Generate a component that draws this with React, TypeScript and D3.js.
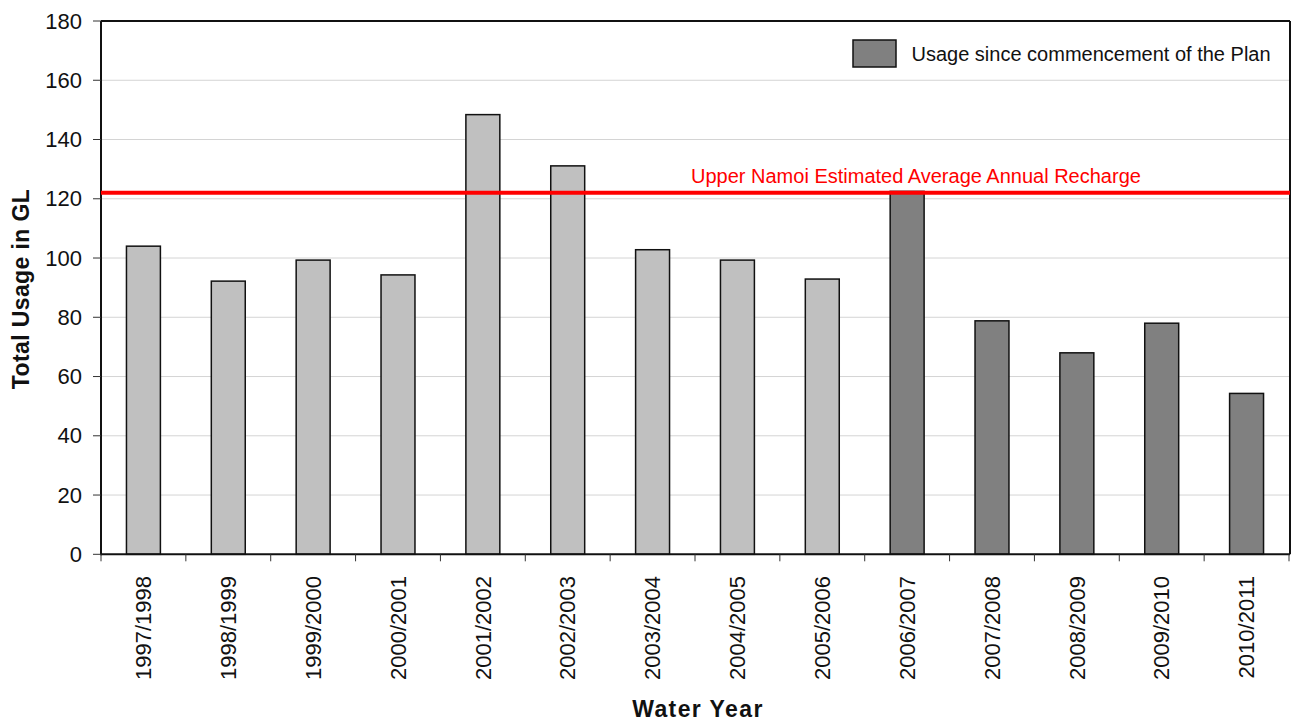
import React from "react";
import * as d3 from "d3";

const categories = [
  "1997/1998", "1998/1999", "1999/2000", "2000/2001", "2001/2002", "2002/2003", "2003/2004",
  "2004/2005", "2005/2006", "2006/2007", "2007/2008", "2008/2009", "2009/2010", "2010/2011",
];
const usage = [104.0, 92.2, 99.3, 94.3, 148.4, 131.1, 102.8, 99.3, 92.9, 122.5, 78.8, 68.0, 78.0, 54.3];
// true = since commencement of the Plan
const sincePlan = [false, false, false, false, false, false, false, false, false, true, true, true, true, true];
const yTicks = [0, 20, 40, 60, 80, 100, 120, 140, 160, 180];
const rechargeValue = 122;
const rechargeLabel = "Upper Namoi Estimated Average Annual Recharge";
const legendLabel = "Usage since commencement of the Plan";
const yTitle = "Total Usage in GL";
const xTitle = "Water Year";

export default function App() {
  const W = 1291, H = 724;
  const left = 101, right = 1290, top = 21, bottom = 554.3;
  const x = d3.scaleBand<string>().domain(categories).range([left, right - 1]).paddingInner(0.6).paddingOuter(0.3);
  const y = d3.scaleLinear().domain([0, 180]).range([bottom, top]);
  const step = x.step();
  const font = "'Liberation Sans', Arial, sans-serif";

  return (
    <svg width={W} height={H} style={{ position: "absolute", left: 0, top: 0, background: "#fff" }} fontFamily={font}>
      <rect x={0} y={0} width={W} height={H} fill="#fff" />
      {/* gridlines */}
      {yTicks.filter((t) => t > 0 && t < 180).map((t) => (
        <line key={"g" + t} x1={left} x2={right} y1={y(t)} y2={y(t)} stroke="#d4d4d4" strokeWidth={1} />
      ))}
      {/* bars */}
      {categories.map((c, i) => (
        <rect
          key={c}
          x={x(c)!}
          y={y(usage[i])}
          width={x.bandwidth()}
          height={bottom - y(usage[i])}
          fill={sincePlan[i] ? "#808080" : "#c0c0c0"}
          stroke="#111"
          strokeWidth={1.5}
        />
      ))}
      {/* frame */}
      <line x1={left} x2={right} y1={top} y2={top} stroke="#111" strokeWidth={2} />
      <line x1={right} x2={right} y1={top} y2={bottom} stroke="#111" strokeWidth={2} />
      <line x1={left} x2={left} y1={top} y2={bottom + 1} stroke="#111" strokeWidth={2} />
      <line x1={left} x2={right} y1={bottom} y2={bottom} stroke="#111" strokeWidth={2} />
      {/* y ticks */}
      {yTicks.map((t) => (
        <g key={"y" + t}>
          <line x1={left - 8} x2={left} y1={y(t)} y2={y(t)} stroke="#333" strokeWidth={1} />
          <text x={82} y={y(t)} dy="0.35em" textAnchor="end" fontSize={22} fill="#111">
            {t}
          </text>
        </g>
      ))}
      {/* x ticks */}
      {d3.range(categories.length + 1).map((i) => (
        <line key={"xt" + i} x1={left + i * step} x2={left + i * step} y1={bottom} y2={bottom + 7} stroke="#333" strokeWidth={1} />
      ))}
      {categories.map((c) => {
        const cx = x(c)! + x.bandwidth() / 2;
        return (
          <text
            key={"xl" + c}
            transform={`translate(${cx},${576}) rotate(-90)`}
            dy="0.35em"
            textAnchor="end"
            fontSize={22}
            fill="#111"
          >
            {c}
          </text>
        );
      })}
      {/* recharge line */}
      <line x1={left} x2={right} y1={y(rechargeValue)} y2={y(rechargeValue)} stroke="#ff0000" strokeWidth={4} />
      <text x={691} y={182.7} fontSize={20} fill="#ff0000">
        {rechargeLabel}
      </text>
      {/* legend */}
      <rect x={853} y={40} width={43} height={27} fill="#808080" stroke="#111" strokeWidth={1.5} />
      <text x={911.5} y={54.3} dy="0.35em" fontSize={20} fill="#111">
        {legendLabel}
      </text>
      {/* axis titles */}
      <text
        transform={`translate(28.5,289) rotate(-90)`}
        textAnchor="middle"
        fontSize={23}
        fontWeight="bold"
        letterSpacing={0.4}
        fill="#111"
      >
        {yTitle}
      </text>
      <text x={698} y={717.3} textAnchor="middle" fontSize={23} fontWeight="bold" letterSpacing={1.4} fill="#111">
        {xTitle}
      </text>
    </svg>
  );
}
